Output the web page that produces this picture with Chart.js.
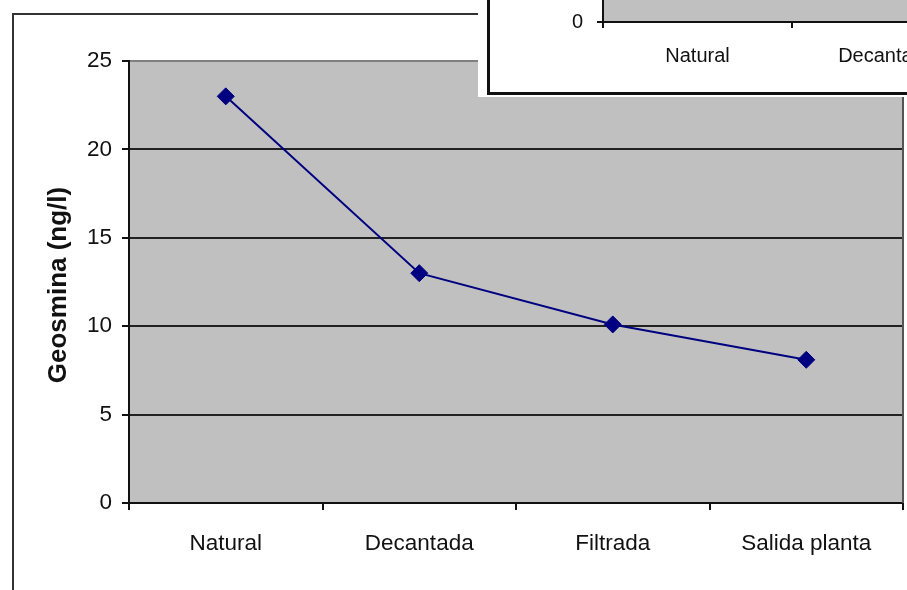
<!DOCTYPE html>
<html>
<head>
<meta charset="utf-8">
<script src="https://cdn.jsdelivr.net/npm/chart.js@4.4.1/dist/chart.umd.min.js"></script>
<style>
  html, body { margin: 0; padding: 0; background: #fff; }
  body { width: 907px; height: 590px; position: relative; overflow: hidden; }
  #frame { position: absolute; left: 12px; top: 13px; width: 1000px; height: 1000px;
           border-left: 2px solid #333; border-top: 2px solid #333; }
  #main { position: absolute; left: 0; top: 0; }
  #inset { position: absolute; left: 478px; top: 0; width: 429px; height: 97px;
           background: #fff; overflow: hidden; }
  #insetChart { position: absolute; left: 12px; top: -198px; }
  #insetBorder { position: absolute; left: 9px; top: -20px; width: 1000px; height: 115px;
                 border: 3px solid #111; box-sizing: border-box; }
</style>
</head>
<body>
<div id="frame"></div>
<canvas id="main" width="907" height="590"></canvas>
<div id="inset">
  <canvas id="insetChart" width="900" height="300"></canvas>
  <div id="insetBorder"></div>
</div>
<script>
// Treatment stages and geosmin concentration (ng/l)
const categories = ['Natural', 'Decantada', 'Filtrada', 'Salida planta'];
const geosmina = [23, 13, 10.1, 8.1];
const yTicks = [0, 5, 10, 15, 20, 25];
const yTitle = 'Geosmina (ng/l)';

const FONT = '"Liberation Sans", Arial, sans-serif';
const INK = '#111';

// Grey plot-area fill plus the grey right edge of the plot frame
const plotArea = {
  id: 'plotArea',
  beforeDraw(chart) {
    const { ctx, chartArea: a } = chart;
    ctx.save();
    ctx.fillStyle = '#c0c0c0';
    ctx.fillRect(a.left, a.top, a.right - a.left, a.bottom - a.top);
    ctx.restore();
  },
  beforeDatasetsDraw(chart) {
    const { ctx, chartArea: a } = chart;
    ctx.save();
    ctx.strokeStyle = '#555';
    ctx.lineWidth = 2;
    ctx.beginPath();
    ctx.moveTo(a.right, a.top);
    ctx.lineTo(a.right, a.bottom);
    ctx.stroke();
    ctx.restore();
  }
};

// Rotated value-axis title, centred a little below the middle of the axis
const axisTitle = {
  id: 'axisTitle',
  afterDraw(chart) {
    const { ctx } = chart;
    ctx.save();
    ctx.translate(58.6, 285);
    ctx.rotate(-Math.PI / 2);
    ctx.font = 'bold 26px ' + FONT;
    ctx.fillStyle = INK;
    ctx.textAlign = 'center';
    ctx.textBaseline = 'middle';
    ctx.fillText(yTitle, 0, 0);
    ctx.restore();
  }
};

const setTicks = s => { s.ticks = yTicks.map(v => ({ value: v })); };

new Chart(document.getElementById('main'), {
  type: 'line',
  data: {
    labels: categories,
    datasets: [{
      data: geosmina,
      borderColor: '#000080',
      borderWidth: 2,
      tension: 0,
      pointStyle: 'rectRot',
      pointRadius: 8.5,
      pointBackgroundColor: '#000080',
      pointBorderColor: '#000080',
      pointBorderWidth: 1,
      clip: false
    }]
  },
  options: {
    responsive: false,
    animation: false,
    events: [],
    layout: { autoPadding: false, padding: { top: 61, right: 4, left: 0, bottom: 0 } },
    plugins: { legend: { display: false }, tooltip: { enabled: false } },
    scales: {
      x: {
        offset: true,
        afterFit: s => { s.height = 87; s.paddingLeft = 0; s.paddingRight = 0; },
        grid: { offset: true, drawOnChartArea: false, color: INK, lineWidth: 2, tickLength: 7 },
        border: { color: INK, width: 2 },
        ticks: { color: INK, font: { family: FONT, size: 22.5 }, padding: 20,
                 maxRotation: 0, autoSkip: false }
      },
      y: {
        min: yTicks[0],
        max: yTicks[yTicks.length - 1],
        afterBuildTicks: setTicks,
        afterFit: s => { s.width = 129; },
        grid: {
          color: c => (c.tick && c.tick.value === yTicks[yTicks.length - 1]) ? '#808080' : '#222',
          lineWidth: 2, tickLength: 7, tickColor: INK
        },
        border: { color: INK, width: 2 },
        ticks: { color: INK, font: { family: FONT, size: 22.5 }, padding: 10 }
      }
    }
  },
  plugins: [plotArea, axisTitle]
});

// Second chart on the page, partly covering the first one
new Chart(document.getElementById('insetChart'), {
  type: 'line',
  data: { labels: categories, datasets: [] },
  options: {
    responsive: false,
    animation: false,
    events: [],
    layout: { autoPadding: false, padding: { top: 20, right: 31, left: 0, bottom: 0 } },
    plugins: { legend: { display: false }, tooltip: { enabled: false } },
    scales: {
      x: {
        type: 'category',
        offset: true,
        afterFit: s => { s.height = 80; s.paddingLeft = 0; s.paddingRight = 0; },
        grid: { offset: true, drawOnChartArea: false, color: INK, lineWidth: 2, tickLength: 6 },
        border: { color: INK, width: 2 },
        ticks: { color: INK, font: { family: FONT, size: 20 }, padding: 16,
                 maxRotation: 0, autoSkip: false }
      },
      y: {
        min: yTicks[0],
        max: yTicks[yTicks.length - 1],
        afterBuildTicks: setTicks,
        afterFit: s => { s.width = 113; },
        grid: { color: '#222', lineWidth: 2, tickLength: 6, tickColor: INK },
        border: { color: INK, width: 2 },
        ticks: { color: INK, font: { family: FONT, size: 20 }, padding: 14 }
      }
    }
  },
  plugins: [plotArea]
});
</script>
</body>
</html>
